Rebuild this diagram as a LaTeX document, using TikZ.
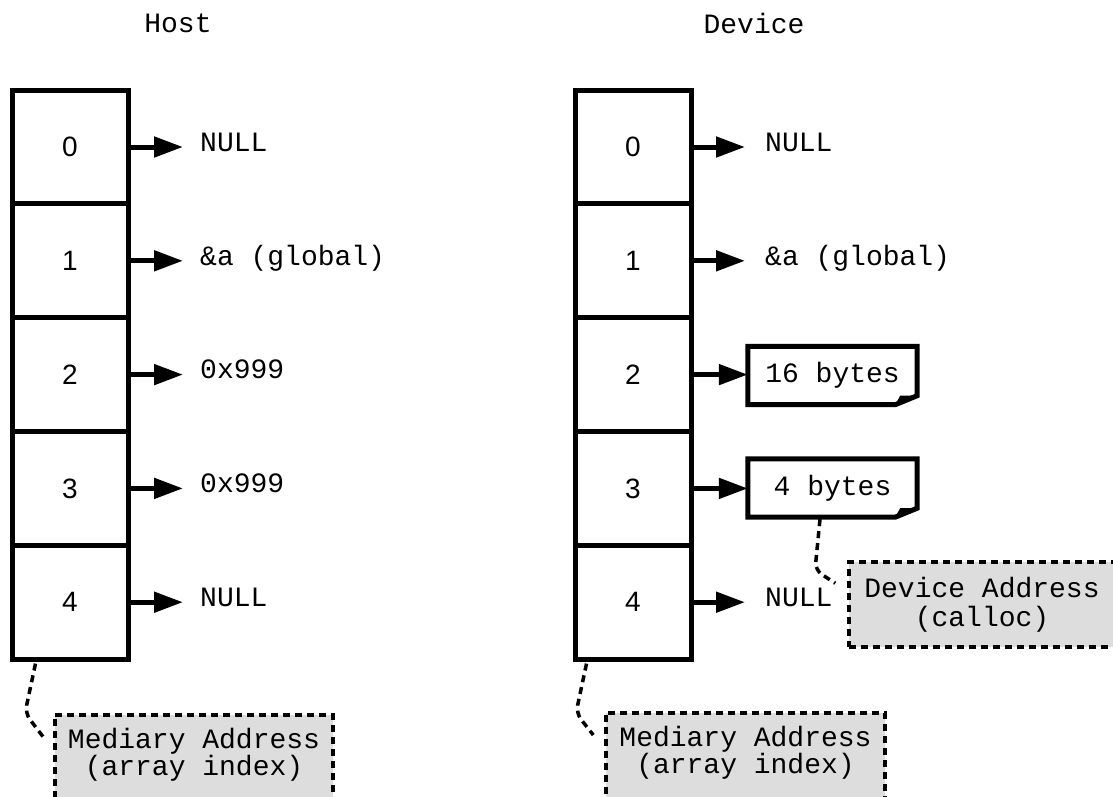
\documentclass[tikz,border=0pt]{standalone}
\usepackage{fontspec}
\setmonofont{Liberation Mono}
\setsansfont{Liberation Sans}
\newfontfamily\digitfam{Liberation Sans}
\usetikzlibrary{arrows.meta}
\definecolor{notegray}{HTML}{DDDDDD}
\tikzset{
  mono/.style={font=\ttfamily\fontsize{28}{26}\selectfont},
  cell/.style={draw, line width=5pt, minimum width=116pt, minimum height=113.8pt, inner sep=0pt,
    font=\digitfam\fontsize{28}{30}\selectfont},
  ptr/.style={line width=5pt, -{Triangle[length=29pt,width=20pt]}},
  lbl/.style={mono, anchor=base west, inner sep=0pt},
  gbox/.style={mono, draw, fill=notegray, line width=3.5pt, dash pattern=on 7pt off 5pt, align=center},
  dots/.style={line width=3.5pt, dash pattern=on 7pt off 5pt, rounded corners=8pt},
  notebox/.style={mono, minimum width=169pt, minimum height=58pt, inner sep=0pt}
}
\begin{document}
\begin{tikzpicture}[x=1pt,y=-1pt]
\useasboundingbox (0,0) rectangle (1113,796);
% titles
\node[mono] (host) at (178,23) {Host};
\node[mono] (dev) at (754,23) {Device};
% cells
\node[cell] (h0) at (70,147) {0};
\node[cell] (h1) at (70,260.8) {1};
\node[cell] (h2) at (70,374.6) {2};
\node[cell] (h3) at (70,488.4) {3};
\node[cell] (h4) at (70,602.2) {4};
\node[cell] (d0) at (633,147) {0};
\node[cell] (d1) at (633,260.8) {1};
\node[cell] (d2) at (633,374.6) {2};
\node[cell] (d3) at (633,488.4) {3};
\node[cell] (d4) at (633,602.2) {4};
% host labels
\node[lbl] (th0) at (200,151) {NULL};
\node[lbl] (th1) at (200,265) {\&a (global)};
\node[lbl] (th2) at (200,378) {0x999};
\node[lbl] (th3) at (200,492) {0x999};
\node[lbl] (th4) at (200,606) {NULL};
\foreach \i in {0,...,4} {
  \draw[ptr, shorten >=17pt] (h\i.east) -- (h\i.east -| th\i.west);
}
% device labels
\node[lbl] (td0) at (765,151) {NULL};
\node[lbl] (td1) at (765,265) {\&a (global)};
\node[lbl] (td4) at (765,606) {NULL};
\draw[ptr, shorten >=20pt] (d0.east) -- (d0.east -| td0.west);
\draw[ptr, shorten >=20pt] (d1.east) -- (d1.east -| td1.west);
\draw[ptr, shorten >=20pt] (d4.east) -- (d4.east -| td4.west);
% note boxes
\node[notebox] (n2) at (832.5,375.5) {16 bytes};
\node[notebox] (n3) at (832.5,488) {4 bytes};
\foreach \n in {n2,n3} {
  \draw[line width=5pt, line join=miter]
    (\n.north west) -- (\n.north east) -- ([yshift=9pt]\n.south east)
    -- ([xshift=-22pt]\n.south east) -- (\n.south west) -- cycle;
  \fill ([yshift=9pt]\n.south east) -- ([xshift=-22pt]\n.south east)
    -- ([xshift=-17pt,yshift=9pt]\n.south east) -- cycle;
}
\draw[ptr] (d2.east) -- (d2.east -| n2.west);
\draw[ptr] (d3.east) -- (d3.east -| n3.west);
% grey notes
\node[gbox, minimum width=266pt, minimum height=85pt, font=\ttfamily\fontsize{28}{29}\selectfont] (da) at (982,604.5) {Device Address\\(calloc)};
\node[gbox, anchor=north, minimum width=278pt, inner ysep=13pt] (mh) at (194,713) {Mediary Address\\(array index)\\\mbox{}};
\node[gbox, anchor=north, minimum width=279pt, inner ysep=13pt] (md) at (745.5,711) {Mediary Address\\(array index)\\\mbox{}};
% dotted connectors
\draw[dots] ([xshift=26pt,yshift=-2pt]h4.south west) -- (25,713) -- ([xshift=-10pt,yshift=-24pt]mh.north west);
\draw[dots] ([xshift=14pt,yshift=-2pt]d4.south west) -- (576,713) -- ([xshift=-11pt,yshift=-24pt]md.north west);
\draw[dots] ([xshift=-12.5pt,yshift=-2pt]n3.south) -- (815,570) -- ([xshift=-12pt,yshift=-23pt]da.north west);
\end{tikzpicture}
\end{document}
